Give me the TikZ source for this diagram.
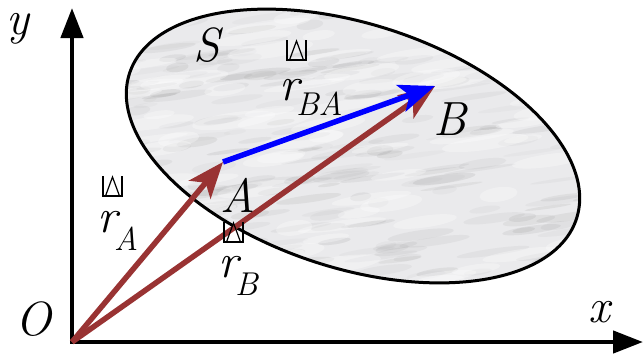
\documentclass[tikz,border=0pt]{standalone}
\usetikzlibrary{arrows.meta}
\definecolor{vecbrown}{RGB}{153,51,51}
\definecolor{vecblue}{RGB}{0,0,255}
\definecolor{marble}{RGB}{234,234,236}
\begin{document}
\begin{tikzpicture}[x=1pt,y=-1pt,
  lab/.style={inner sep=0pt, anchor=base, font=\fontsize{48}{48}\selectfont\itshape},
  vlab/.style={inner sep=0pt, anchor=base west, font=\fontsize{48}{48}\selectfont\itshape},
  axes/.style={line width=4.5pt, {Triangle[length=30pt,width=22pt]}-{Triangle[length=30pt,width=22pt]}},
  vec/.style={line width=5.5pt, -{Stealth[length=36pt,width=28pt,inset=9pt]}},
  pics/boxglyph/.style={code={
    \draw[line width=1.2pt] (0,0)--(0,20)--(19,20)--(19,0);
    \draw[line width=1.2pt] (2.5,20)--(9.5,1)--(16.5,20);}}
]
\useasboundingbox (0,0) rectangle (644,354);
\coordinate (O) at (72,342);
\coordinate (X) at (643,342);
\coordinate (Y) at (72,8);
\coordinate (A) at (223,162);
\coordinate (B) at (435,86);
\coordinate (C) at (353,146);
% region S
\fill[marble, rotate around={-18:(C)}] (C) ellipse [x radius=235pt, y radius=122pt];
\begin{scope}
  \clip[rotate around={-18:(C)}] (C) ellipse [x radius=235pt, y radius=122pt];
  \pgfmathsetseed{11}
  \foreach \i in {1,...,260}{
    \pgfmathsetmacro{\px}{110+480*rnd}
    \pgfmathsetmacro{\py}{10+280*rnd}
    \pgfmathsetmacro{\rx}{10+28*rnd}
    \pgfmathsetmacro{\ry}{1.5+3.5*rnd}
    \pgfmathsetmacro{\op}{0.03+0.08*rnd}
    \fill[black!60, opacity=\op, rotate around={8:(\px,\py)}] (\px,\py) ellipse [x radius=\rx pt, y radius=\ry pt];
  }
  \foreach \i in {1,...,80}{
    \pgfmathsetmacro{\px}{110+480*rnd}
    \pgfmathsetmacro{\py}{10+280*rnd}
    \pgfmathsetmacro{\rx}{15+30*rnd}
    \pgfmathsetmacro{\ry}{3+5*rnd}
    \fill[white, opacity=0.3, rotate around={8:(\px,\py)}] (\px,\py) ellipse [x radius=\rx pt, y radius=\ry pt];
  }
\end{scope}
\draw[line width=3pt, rotate around={-18:(C)}] (C) ellipse [x radius=235pt, y radius=122pt];
% axes
\draw[axes] (Y) -- (O) -- (X);
% vectors
\draw[vec, vecbrown] (O) -- (A);
\draw[vec, vecbrown] (O) -- (B);
\draw[vec, vecblue] (A) -- (B);
% labels
\node[lab] (ylab) at (18,34) {y};
\node[lab] (olab) at (34,335) {O};
\node[lab] (xlab) at (599,322) {x};
\node[lab] (slab) at (207,61) {S};
\node[lab] (alab) at (238,212) {A};
\node[lab] (blab) at (450,135) {B};
\node[vlab] (ra) at (97,232) {r\kern-3pt\raisebox{-18pt}{\fontsize{33}{33}\selectfont A}};
\node[vlab] (rb) at (218,277) {r\kern-3pt\raisebox{-18pt}{\fontsize{33}{33}\selectfont B}};
\node[vlab] (rba) at (279,100) {r\kern-3pt\raisebox{-15pt}{\fontsize{33}{33}\selectfont BA}};
\pic at (103,176) {boxglyph};
\pic at (224,222) {boxglyph};
\pic at (287,40) {boxglyph};
\end{tikzpicture}
\end{document}
